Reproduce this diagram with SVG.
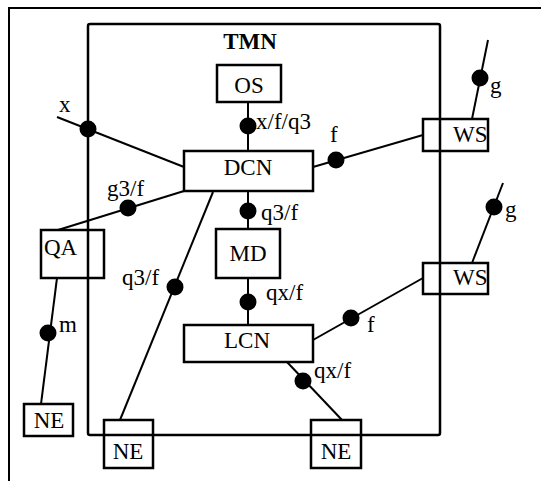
<svg xmlns="http://www.w3.org/2000/svg" width="541" height="481" viewBox="0 0 541 481">
<style>
.box{fill:none;stroke:#000;stroke-width:2.5}
.ln{fill:none;stroke:#000;stroke-width:2}
.dot{fill:#000}
text{font-family:'Liberation Serif','DejaVu Serif',serif;font-size:23px;fill:#000}
.c{text-anchor:middle}
</style>
<rect width="541" height="481" fill="#fff"/>
<path class="ln" d="M9,481 V8 H541"/>
<g id="tmn">
<rect class="box" x="88" y="24" width="352" height="411" rx="2"/>
<text class="c" x="250" y="49" font-weight="bold" font-size="24" font-family="Liberation Serif, serif">TMN</text>
</g>
<g id="connectors" font-family="Liberation Serif, serif">
<line class="ln" x1="248" y1="102" x2="248" y2="151"/>
<circle class="dot" cx="248" cy="126" r="8.5"/>
<text x="256" y="129" font-family="Liberation Serif, serif">x/f/q3</text>
<line class="ln" x1="57" y1="117" x2="184" y2="167"/>
<circle class="dot" cx="88" cy="129" r="8.5"/>
<text x="59" y="112" font-family="Liberation Serif, serif">x</text>
<line class="ln" x1="184" y1="191" x2="58" y2="230"/>
<circle class="dot" cx="128" cy="208" r="8.5"/>
<text x="107" y="196" font-family="Liberation Serif, serif">g3/f</text>
<line class="ln" x1="213" y1="192" x2="120" y2="420"/>
<circle class="dot" cx="175" cy="287" r="8.5"/>
<text x="122" y="285" font-family="Liberation Serif, serif">q3/f</text>
<line class="ln" x1="248" y1="192" x2="248" y2="229"/>
<circle class="dot" cx="248" cy="211" r="8.5"/>
<text x="261" y="220" font-family="Liberation Serif, serif">q3/f</text>
<line class="ln" x1="248" y1="278" x2="248" y2="325"/>
<circle class="dot" cx="248" cy="302" r="8.5"/>
<text x="266" y="300" font-family="Liberation Serif, serif">qx/f</text>
<line class="ln" x1="313" y1="340" x2="423" y2="278"/>
<circle class="dot" cx="351" cy="318" r="8.5"/>
<text x="367" y="332" font-family="Liberation Serif, serif">f</text>
<line class="ln" x1="287" y1="362" x2="342" y2="420"/>
<circle class="dot" cx="303" cy="381" r="8.5"/>
<text x="314" y="378" font-family="Liberation Serif, serif">qx/f</text>
<line class="ln" x1="313" y1="167" x2="423" y2="135"/>
<circle class="dot" cx="336" cy="160" r="8.5"/>
<text x="330" y="142" font-family="Liberation Serif, serif">f</text>
<line class="ln" x1="472" y1="119" x2="488" y2="40"/>
<circle class="dot" cx="480" cy="78" r="8.5"/>
<text x="490" y="93" font-family="Liberation Serif, serif">g</text>
<line class="ln" x1="472" y1="263" x2="503" y2="183"/>
<circle class="dot" cx="494" cy="207" r="8.5"/>
<text x="505" y="217" font-family="Liberation Serif, serif">g</text>
<line class="ln" x1="57" y1="278" x2="41" y2="404"/>
<circle class="dot" cx="48" cy="333" r="8.5"/>
<text x="59" y="332" font-family="Liberation Serif, serif">m</text>
</g>
<g id="os"><rect class="box" x="217" y="65" width="64" height="37"/><text class="c" x="249" y="93" font-family="Liberation Serif, serif">OS</text></g>
<g id="dcn"><rect class="box" x="184" y="151" width="129" height="40"/><text class="c" x="248" y="175" font-family="Liberation Serif, serif">DCN</text></g>
<g id="md"><rect class="box" x="216" y="229" width="64" height="49"/><text class="c" x="248" y="261" font-family="Liberation Serif, serif">MD</text></g>
<g id="lcn"><rect class="box" x="184" y="325" width="129" height="37"/><text class="c" x="247" y="348" font-family="Liberation Serif, serif">LCN</text></g>
<g id="qa"><rect class="box" x="41" y="230" width="63" height="48"/><text x="44" y="255" font-family="Liberation Serif, serif">QA</text></g>
<g id="ws1"><rect class="box" x="423" y="119" width="65" height="32"/><text x="453" y="142" font-family="Liberation Serif, serif">WS</text></g>
<g id="ws2"><rect class="box" x="423" y="263" width="65" height="31"/><text x="453" y="285" font-family="Liberation Serif, serif">WS</text></g>
<g id="ne1"><rect class="box" x="24" y="404" width="49" height="32"/><text class="c" x="49" y="428" font-family="Liberation Serif, serif">NE</text></g>
<g id="ne2"><rect class="box" x="104" y="420" width="49" height="48"/><text class="c" x="128" y="459" font-family="Liberation Serif, serif">NE</text></g>
<g id="ne3"><rect class="box" x="311" y="420" width="50" height="48"/><text class="c" x="336" y="459" font-family="Liberation Serif, serif">NE</text></g>
</svg>
